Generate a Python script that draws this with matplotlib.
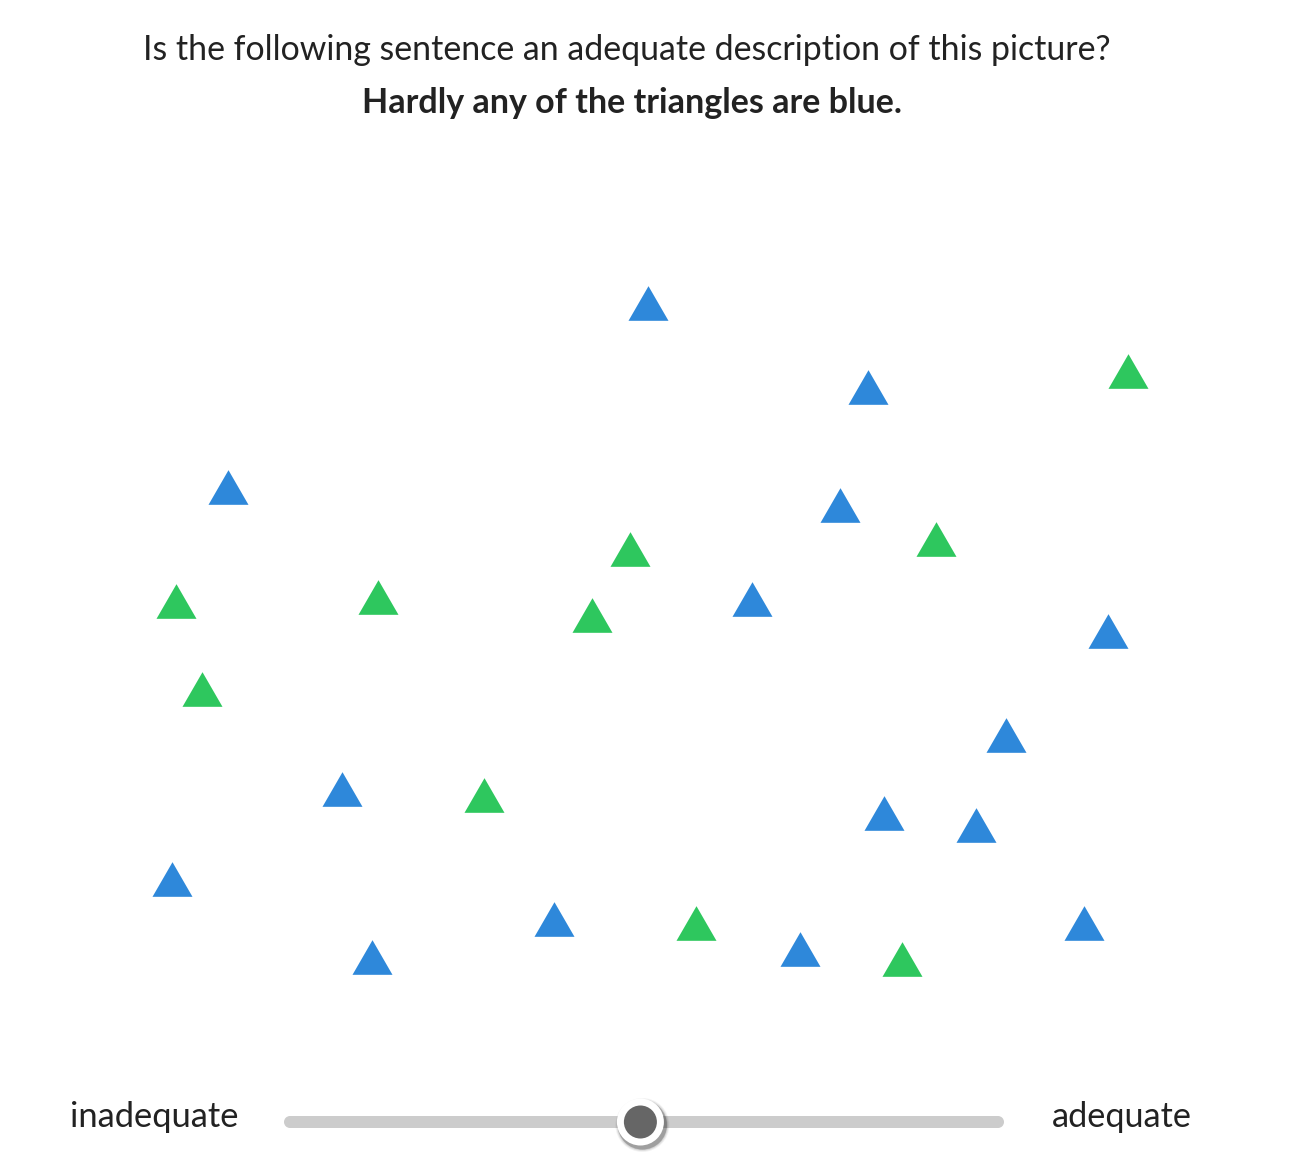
import matplotlib
matplotlib.use("Agg")
import matplotlib.pyplot as plt
from matplotlib.path import Path
from matplotlib.patches import FancyBboxPatch, Circle
import numpy as np

# ---- data ----
question = "Is the following sentence an adequate description of this picture?"
sentence = "Hardly any of the triangles are blue."
left_label = "inadequate"
right_label = "adequate"

blue_x = [648, 868, 228, 840, 752, 1108, 1006, 342, 884, 976, 172, 554, 1084, 372, 800]
blue_y = [303, 387, 487, 505, 599, 631, 735, 789, 813, 825, 879, 919, 923, 957, 949]
green_x = [1128, 936, 630, 176, 378, 592, 202, 484, 696, 902]
green_y = [371, 539, 549, 601, 597, 615, 689, 795, 923, 959]

slider_min, slider_max = 0.0, 1.0
slider_value = 0.495

# ---- figure ----
W, H = 1292, 1174
DPI = 100
fig = plt.figure(figsize=(W / DPI, H / DPI), dpi=DPI)
ax = fig.add_axes([0, 0, 1, 1])
ax.set_xlim(0, W)
ax.set_ylim(H, 0)
ax.axis("off")

px2pt = 72.0 / DPI
text_color = "#222222"
fam = ["Lato", "DejaVu Sans"]

ax.text(627, 60, question, ha="center", va="baseline", fontsize=33.9 * px2pt,
        color=text_color, family=fam)
ax.text(631.5, 113, sentence, ha="center", va="baseline", fontsize=34 * px2pt,
        color=text_color, family=fam, fontweight="bold")

tri = Path([(-0.5, -0.433), (0.5, -0.433), (0.0, 0.433), (-0.5, -0.433)],
           [Path.MOVETO, Path.LINETO, Path.LINETO, Path.CLOSEPOLY])
msize = 40 * px2pt
ax.scatter(blue_x, blue_y, marker=tri, s=msize ** 2, color="#2e88da",
           linewidths=0, zorder=3)
ax.scatter(green_x, green_y, marker=tri, s=msize ** 2, color="#2ec75e",
           linewidths=0, zorder=3)

# ---- slider ----
track_x0, track_x1, track_y, track_h = 284, 1004, 1122, 12
ax.add_patch(FancyBboxPatch((track_x0 + track_h / 2, track_y - track_h / 2),
                            track_x1 - track_x0 - track_h, track_h,
                            boxstyle="square,pad=0", facecolor="#cccccc",
                            edgecolor="none", zorder=2))
ax.add_patch(Circle((track_x0 + track_h / 2, track_y), track_h / 2, color="#cccccc",
                    linewidth=0, zorder=2))
ax.add_patch(Circle((track_x1 - track_h / 2, track_y), track_h / 2, color="#cccccc",
                    linewidth=0, zorder=2))

kx = track_x0 + (track_x1 - track_x0) * (slider_value - slider_min) / (slider_max - slider_min)
# shadow
for r, a in [(27, 0.05), (26, 0.08), (25, 0.12), (24.5, 0.18)]:
    ax.add_patch(Circle((kx + 2, track_y + 3), r, color="black", alpha=a,
                        linewidth=0, zorder=3))
ax.add_patch(Circle((kx, track_y), 23.5, color="white", linewidth=0, zorder=4))
ax.add_patch(Circle((kx, track_y), 16.5, color="#666666", linewidth=0, zorder=5))

ax.text(70, 1127, left_label, ha="left", va="baseline", fontsize=34.5 * px2pt,
        color=text_color, family=fam)
ax.text(1192, 1127, right_label, ha="right", va="baseline", fontsize=34.3 * px2pt,
        color=text_color, family=fam)

fig.savefig("out.png", dpi=DPI, facecolor="white")
